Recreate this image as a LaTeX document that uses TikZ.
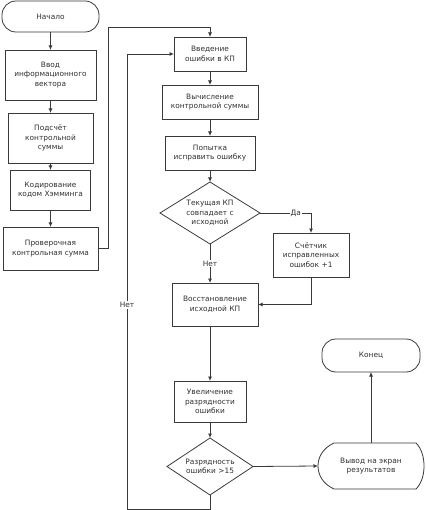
\documentclass[tikz,border=0pt]{standalone}
\usepackage{fontspec}
\setmainfont{DejaVu Sans}
\usetikzlibrary{shapes.geometric,arrows.meta,calc}
\definecolor{ln}{HTML}{3A3A3A}
\definecolor{tx}{HTML}{303030}
\begin{document}
\begin{tikzpicture}[x=1pt,y=-1pt,
  every node/.style={font=\fontsize{7.4}{9.6}\selectfont, text=tx, align=center, inner sep=0pt, outer sep=0pt},
  proc/.style={draw=ln, line width=0.8pt, rectangle},
  term/.style={draw=ln, line width=0.8pt, rectangle, rounded corners=14pt},
  dec/.style={draw=ln, line width=0.8pt, diamond},
  conn/.style={draw=ln, line width=0.8pt, -{Latex[length=4.5pt,width=4pt]}},
  plain/.style={draw=ln, line width=0.8pt},
  lbl/.style={fill=white, inner sep=1pt}
]
\useasboundingbox (0,0) rectangle (425,510);

% left column
\node[term, minimum width=97, minimum height=31] (start) at (50.5,16.5) {Начало};
\node[proc, minimum width=91, minimum height=50] (b1) at (50.5,75) {Ввод\\информационного\\вектора};
\node[proc, minimum width=85, minimum height=50] (b2) at (50.5,138) {Подсчёт\\контрольной\\суммы};
\node[proc, minimum width=80, minimum height=40] (b3) at (50.5,190) {Кодирование\\кодом Хэмминга};
\node[proc, minimum width=95, minimum height=43] (b4) at (50.5,248.5) {Проверочная\\контрольная сумма};

% middle column
\node[proc, minimum width=72, minimum height=34] (b5) at (210,54) {Введение\\ошибки в КП};
\node[proc, minimum width=96, minimum height=34] (b6) at (210,102) {Вычисление\\контрольной суммы};
\node[proc, minimum width=90, minimum height=34] (b7) at (210,153) {Попытка\\исправить ошибку};
\node[dec, minimum width=100, minimum height=62, aspect=1.6] (d1) at (210,213) {Текущая КП\\совпадает с\\исходной};
\node[proc, minimum width=76, minimum height=44] (b8) at (311,255) {Счётчик\\исправленных\\ошибок +1};
\node[proc, minimum width=86, minimum height=43] (b9) at (215,304.5) {Восстановление\\исходной КП};
\node[proc, minimum width=72, minimum height=41] (b10) at (210,401.5) {Увеличение\\разрядности\\ошибки};
\node[dec, minimum width=86, minimum height=57, aspect=1.5] (d2) at (210,466.5) {Разрядность\\ошибки >15};

% right column
\node[term, minimum width=98, minimum height=33] (end) at (371,355.5) {Конец};
\node[rectangle, minimum width=106, minimum height=46] (out) at (371,466) {Вывод на экран\\результатов};
\draw[plain] ($(out.north west)+(16,0)$) -- ($(out.north east)+(-8,0)$)
  .. controls ($(out.north east)+(-2,6)$) and ($(out.east)+(0,-8)$) .. (out.east)
  .. controls ($(out.east)+(0,8)$) and ($(out.south east)+(-2,-6)$) .. ($(out.south east)+(-8,0)$)
  -- ($(out.south west)+(16,0)$)
  .. controls ($(out.south west)+(5,-5)$) and ($(out.west)+(0,9)$) .. (out.west)
  .. controls ($(out.west)+(0,-9)$) and ($(out.north west)+(5,5)$) .. ($(out.north west)+(16,0)$) -- cycle;

% helper coordinates
\coordinate (c1) at (108,27);
\coordinate (c2) at (127,509);

% connectors
\draw[conn] (start) -- (b1);
\draw[conn] (b1) -- (b2);
\draw[conn] (b2) -- (b3);
\draw[conn] (b3) -- (b4);
\draw[plain] (b4.east) -| (c1);
\draw[conn] (c1) -| (b5.north);
\draw[conn] (b5) -- (b6);
\draw[conn] (b6) -- (b7);
\draw[conn] (b7) -- (d1);
\draw[conn] (d1.east) -| node[lbl, pos=0.35] {Да} (b8.north);
\draw[conn] (b8.south) |- (b9.east);
\draw[conn] (d1.south) -- node[lbl] {Нет} (d1.south |- b9.north);
\draw[conn] (d1.south |- b9.south) -- (b10.north);
\draw[conn] (b10) -- (d2);
\draw[conn] (d2.east) -- (out.west);
\draw[conn] (out.north) -- (end.south);
\draw[plain] (d2.south) |- (c2);
\draw[conn] (c2) |- node[lbl, pos=0.224] {Нет} (b5.west);
\end{tikzpicture}
\end{document}
